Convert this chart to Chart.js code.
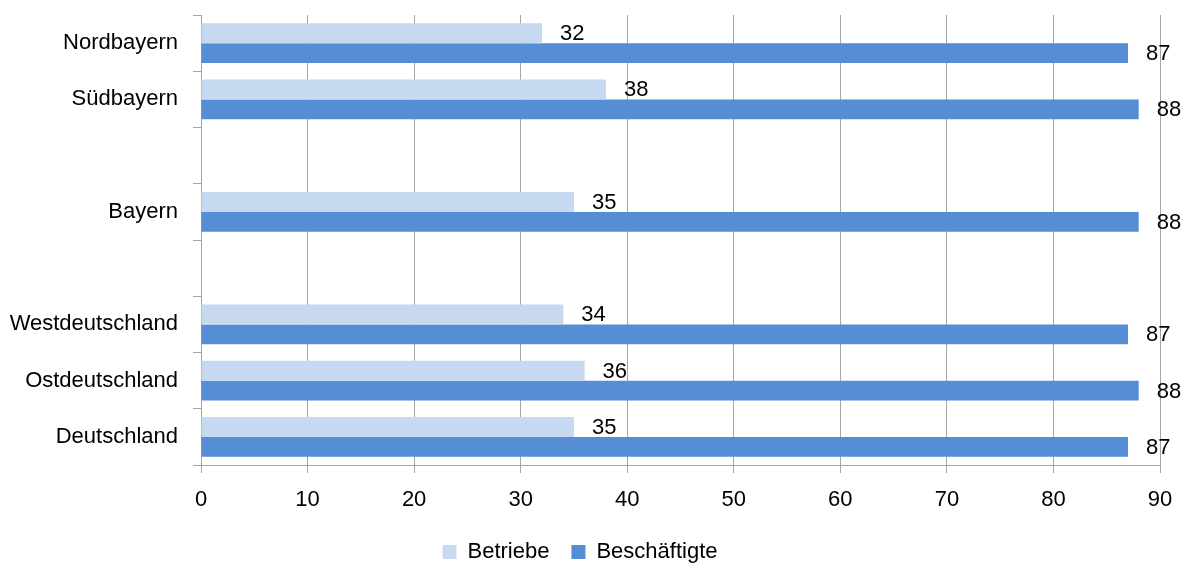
<!DOCTYPE html>
<html>
<head>
<meta charset="utf-8">
<script src="https://cdn.jsdelivr.net/npm/chart.js@4.4.0/dist/chart.umd.min.js"></script>
<style>
  html, body { margin: 0; padding: 0; background: #fff; }
  #wrap { width: 1188px; height: 565px; }
</style>
</head>
<body>
<div id="wrap"><canvas id="chartBetriebe" width="1188" height="565"></canvas></div>
<script>
// Kategorien (leere Zeilen als Abstand)
var regionen = ['Nordbayern', 'Südbayern', '', 'Bayern', '', 'Westdeutschland', 'Ostdeutschland', 'Deutschland'];
var betriebe = [32, 38, null, 35, null, 34, 36, 35];
var beschaeftigte = [87, 88, null, 88, null, 87, 88, 87];
var xTicks = [0, 10, 20, 30, 40, 50, 60, 70, 80, 90];

var schrift = "'Liberation Sans', Arial, sans-serif";
Chart.defaults.font.family = schrift;
Chart.defaults.color = '#000';

// Werte rechts neben die Balken schreiben
var werteLabels = {
  id: 'werteLabels',
  afterDatasetsDraw: function(chart) {
    var ctx = chart.ctx;
    ctx.save();
    ctx.font = '22px ' + schrift;
    ctx.fillStyle = '#000';
    ctx.textAlign = 'left';
    ctx.textBaseline = 'middle';
    chart.data.datasets.forEach(function(ds, d) {
      var meta = chart.getDatasetMeta(d);
      meta.data.forEach(function(el, i) {
        if (ds.data[i] == null) return;
        ctx.fillText(ds.data[i], el.x + 18, el.y + 1);
      });
    });
    ctx.restore();
  }
};

var ctx = document.getElementById('chartBetriebe').getContext('2d');
var chart = new Chart(ctx, {
  type: 'bar',
  data: {
    labels: regionen,
    datasets: [{
      label: 'Betriebe',
      backgroundColor: '#C6D9F1',
      borderColor: '#C6D9F1',
      data: betriebe
    }, {
      label: 'Beschäftigte',
      backgroundColor: '#558ED5',
      borderColor: '#558ED5',
      data: beschaeftigte
    }]
  },
  options: {
    indexAxis: 'y',
    responsive: false,
    animation: false,
    categoryPercentage: 0.71,
    barPercentage: 1.0,
    layout: { padding: { left: 0, right: 28, top: 15, bottom: -8 } },
    plugins: {
      legend: {
        position: 'bottom',
        labels: {
          boxWidth: 14,
          boxHeight: 14,
          padding: 22,
          font: { size: 22 }
        }
      },
      tooltip: { enabled: false }
    },
    scales: {
      x: {
        min: 0,
        max: 90,
        afterBuildTicks: function(scale) {
          scale.ticks = xTicks.map(function(v) { return { value: v }; });
        },
        afterFit: function(scale) {
          scale.height = 54;
          scale.paddingLeft = 0;
          scale.paddingRight = 0;
        },
        grid: { color: '#A6A6A6', lineWidth: 1, tickLength: 8 },
        border: { color: '#A6A6A6' },
        ticks: { font: { size: 22 }, padding: 14, maxRotation: 0 }
      },
      y: {
        afterFit: function(scale) {
          scale.width = 201;
          scale.paddingTop = 0;
          scale.paddingBottom = 0;
        },
        grid: { drawOnChartArea: false, color: '#A6A6A6', tickLength: 8 },
        border: { color: '#A6A6A6' },
        ticks: { font: { size: 22 }, padding: 15 }
      }
    }
  },
  plugins: [werteLabels]
});
</script>
</body>
</html>
